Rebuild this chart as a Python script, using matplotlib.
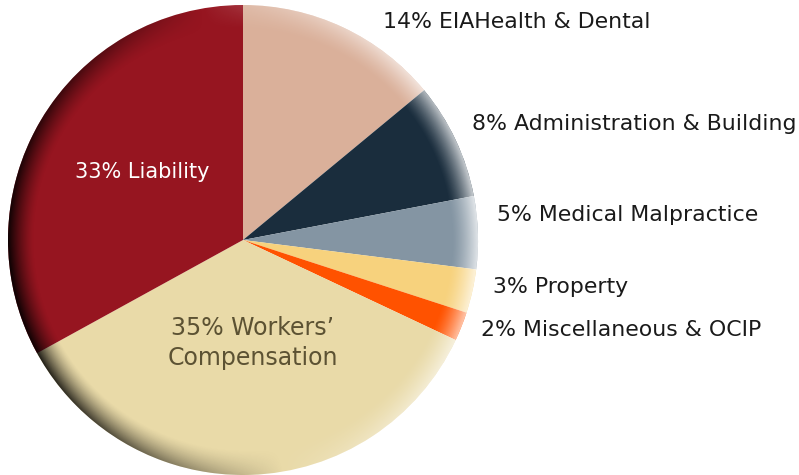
import matplotlib.pyplot as plt
import numpy as np
from matplotlib.patches import Circle

# slice data, clockwise from 12 o'clock
labels = ['14% EIAHealth & Dental', '8% Administration & Building', '5% Medical Malpractice',
          '3% Property', '2% Miscellaneous & OCIP', "35% Workers\u2019\nCompensation", '33% Liability']
shares = [14, 8, 5, 3, 2, 35, 33]
colors = ['#DAB09A', '#1A2D3D', '#8495A3', '#F7D27D', '#FF5200', '#E9DAA8', '#961520']

plt.rcParams['font.family'] = ['DejaVu Sans']

fig = plt.figure(figsize=(7.99, 4.75), dpi=100)
ax = fig.add_axes([0, 0, 1, 1])

cx, cy, R = 243, 235, 235
ax.pie(shares, colors=colors, startangle=90, counterclock=False,
       center=(cx, cy), radius=R, frame=True,
       wedgeprops=dict(linewidth=0))
ax.set_xlim(0, 799)
ax.set_ylim(0, 475)
ax.set_aspect('equal')
ax.axis('off')

# bevel shading near the rim: dark on the left, light on the right
n = 700
xs = np.linspace(-1, 1, n)
X, Y = np.meshgrid(xs, xs)
r = np.hypot(X, Y)
theta = np.arctan2(Y, X)
shade = np.cos(theta - np.deg2rad(10))
t = np.clip((r - 0.89) / 0.11, 0, 1) ** 1.4
rgba = np.zeros((n, n, 4))
light = shade > 0
rgba[light, :3] = 1.0
rgba[..., 3] = np.where(light, t * shade * 0.75, t * (-shade) * 0.92)
img = ax.imshow(rgba, extent=(cx - R, cx + R, cy - R, cy + R), origin='lower',
                interpolation='bilinear', zorder=3)
clip = Circle((cx, cy), R, transform=ax.transData)
img.set_clip_path(clip)
ax.set_xlim(0, 799)
ax.set_ylim(0, 475)

# labels
fs = 15.8
ax.text(383, 475 - 22, labels[0], fontsize=fs, color='#1a1a1a', va='center', ha='left', zorder=5)
ax.text(472, 475 - 124, labels[1], fontsize=fs, color='#1a1a1a', va='center', ha='left', zorder=5)
ax.text(497, 475 - 215, labels[2], fontsize=fs, color='#1a1a1a', va='center', ha='left', zorder=5)
ax.text(493, 475 - 287, labels[3], fontsize=fs, color='#1a1a1a', va='center', ha='left', zorder=5)
ax.text(481, 475 - 330, labels[4], fontsize=fs, color='#1a1a1a', va='center', ha='left', zorder=5)
ax.text(253, 475 - 343, labels[5], fontsize=17, color='#5C5233', va='center', ha='center',
        linespacing=1.35, zorder=5)
ax.text(142, 475 - 172, labels[6], fontsize=15, color='white', va='center', ha='center', zorder=5)

fig.savefig('out.png', dpi=100)
